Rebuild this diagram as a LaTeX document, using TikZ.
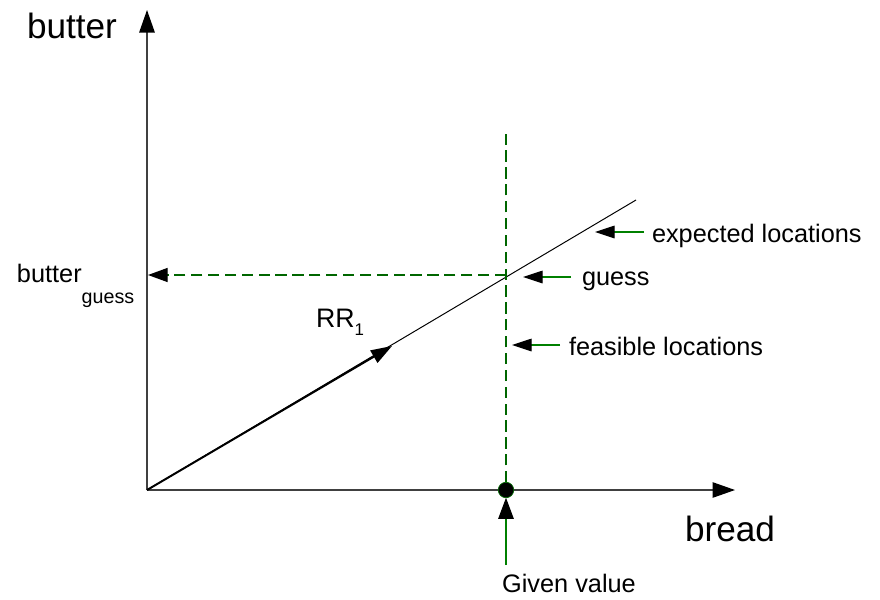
\documentclass[tikz,border=0pt]{standalone}
\usepackage{fontspec}
\setmainfont{Liberation Sans}
\usetikzlibrary{arrows.meta, positioning}

\begin{document}
\begin{tikzpicture}[
    x=0.025cm, y=-0.025cm,
    every node/.style={inner sep=0pt, outer sep=0pt},
    axis/.style={-{Triangle[length=16pt, width=11pt, black]}, line width=0.9pt, black!75},
    rrline/.style={line width=0.7pt, black},
    rrarrow/.style={-{Triangle[length=15pt, width=10pt]}, line width=1.4pt, black},
    dashline/.style={dashed, dash pattern=on 8pt off 4pt, line width=0.9pt, green!40!black},
    pointer/.style={-{Triangle[length=14pt, width=9pt, black]}, line width=0.8pt, green!50!black},
    bigtxt/.style={font=\fontsize{25}{30}\selectfont},
    txt/.style={font=\fontsize{18}{22}\selectfont},
    dot/.style={circle, fill=black, draw=green!40!black, line width=0.5pt, minimum size=11pt}
]
\useasboundingbox (0,0) rectangle (880,599);

% ============ AXES ============
\coordinate (O) at (147,490);
\coordinate (ytip) at (147,10);
\coordinate (xtip) at (735,490);
\draw[axis] (O) -- (ytip);
\draw[axis] (O) -- (xtip);

\node[bigtxt, anchor=base] (butter) at (72,38) {butter};
\node[bigtxt, anchor=base] (bread) at (730,541) {bread};

% ============ RR LINE ============
\coordinate (rrend) at (636,200);
\coordinate (rrtip) at (392,346);
\draw[rrline] (O) -- (rrend);
\draw[rrarrow] (O) -- (rrtip);
\node[anchor=base west, font=\fontsize{19}{23}\selectfont] (rr) at (316,327)
    {RR\raisebox{-6pt}{\fontsize{12}{14}\selectfont 1}};

% ============ GIVEN VALUE AND GUESS ============
\node[dot] (given) at (506,490) {};
\coordinate (vtop) at (506,130);
\coordinate (guess) at (506,275);
\coordinate (ymark) at (148,275);
\draw[dashline] (given) -- (vtop);
\draw[dashline, -{Triangle[length=14pt, width=10pt, black]}] (guess) -- (ymark);

\node[txt, anchor=base west] (bguess) at (17,282)
    {butter\raisebox{-15pt}{\fontsize{14}{16}\selectfont guess}};

\coordinate (givtail) at (506,565);
\draw[pointer, -{Triangle[length=15pt, width=11pt, black]}] (givtail) -- (given);
\node[txt, anchor=base] (givtxt) at (569,592) {Given value};

% ============ ANNOTATIONS ============
\node[txt, anchor=base west] (exptxt) at (652,242) {expected locations};
\node[txt, anchor=base west] (guesstxt) at (582,285) {guess};
\node[txt, anchor=base west] (feastxt) at (569,355) {feasible locations};

\coordinate (exptip) at (595,232);
\coordinate (guesstip) at (523,277);
\coordinate (feastip) at (512,345);
\draw[pointer] (exptxt.west |- exptip) ++(-8,0) -- (exptip);
\draw[pointer] (guesstxt.west |- guesstip) ++(-11,0) -- (guesstip);
\draw[pointer] (feastxt.west |- feastip) ++(-9,0) -- (feastip);

\end{tikzpicture}
\end{document}
